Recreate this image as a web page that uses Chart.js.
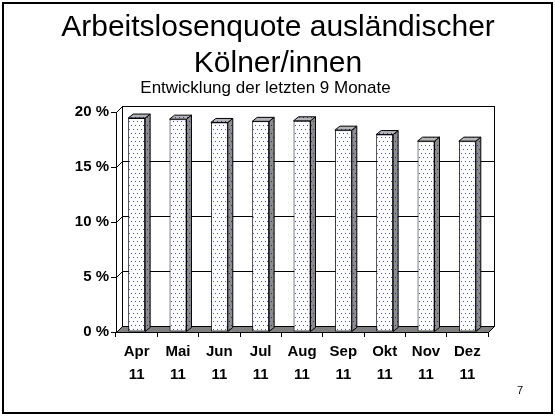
<!DOCTYPE html>
<html lang="de">
<head>
<meta charset="UTF-8">
<title>Arbeitslosenquote ausländischer Kölner/innen</title>
<script src="https://cdn.jsdelivr.net/npm/chart.js"></script>
<style>
  body { margin: 0; background: #fff; }
  canvas { display: block; }
</style>
</head>
<body>
<canvas id="myChart" width="555" height="417"></canvas>
<script>
// Daten
const monate = ['Apr', 'Mai', 'Jun', 'Jul', 'Aug', 'Sep', 'Okt', 'Nov', 'Dez'];
const jahre = ['11', '11', '11', '11', '11', '11', '11', '11', '11'];
const quote = [19.45, 19.35, 19.05, 19.15, 19.2, 18.35, 17.95, 17.35, 17.35];
const titel = ['Arbeitslosenquote ausländischer', 'Kölner/innen'];
const untertitel = 'Entwicklung der letzten 9 Monate';
const seite = '7';

const FONT = "'Liberation Sans', Arial, sans-serif";
const DX = 6, DY = -6;   // Tiefe der Wände
const BX = 5, BY = -4;   // Tiefe der Säulen

const canvas = document.getElementById('myChart');
const ctx = canvas.getContext('2d');

// gepunktetes Muster wie in PowerPoint
function punkte(bg, dot) {
    const tile = document.createElement('canvas');
    tile.width = 4; tile.height = 8;
    const g = tile.getContext('2d');
    g.fillStyle = bg;
    g.fillRect(0, 0, 4, 8);
    g.fillStyle = dot;
    g.fillRect(1, 1, 1, 1);
    g.fillRect(3, 5, 1, 1);
    return ctx.createPattern(tile, 'repeat');
}
const vorne = punkte('#ffffff', 'rgb(70,70,225)');
const seiteMuster = punkte('#8c8c8c', 'rgb(40,40,160)');
const oben = punkte('#b4b4b4', 'rgb(50,50,180)');

const raum = {
    id: 'raum',
    beforeDraw(chart) {
        const c = chart.ctx, a = chart.chartArea, y = chart.scales.y;
        const L = Math.round(a.left) + 0.5, R = Math.round(a.right) + 0.5;
        const B = Math.round(a.bottom) + 0.5, T = Math.round(a.top) + 0.5;
        c.save();
        c.fillStyle = '#fff';
        c.fillRect(0, 0, chart.width, chart.height);

        // Folienrahmen
        c.strokeStyle = '#000';
        c.lineWidth = 2;
        c.strokeRect(3, 3, 549, 410);
        c.lineWidth = 1;

        // Rückwand
        c.strokeRect(L + DX, T + DY, R - L, B - T);
        // linke Wand
        c.beginPath();
        c.moveTo(L, B); c.lineTo(L, T); c.lineTo(L + DX, T + DY); c.lineTo(L + DX, B + DY);
        c.closePath();
        c.stroke();
        // Boden
        c.beginPath();
        c.moveTo(L, B); c.lineTo(R, B); c.lineTo(R + DX, B + DY); c.lineTo(L + DX, B + DY);
        c.closePath();
        c.fillStyle = '#808080';
        c.fill();
        c.stroke();

        // Gitternetz
        y.ticks.forEach(t => {
            if (t.value <= y.min || t.value >= y.max) return;
            const py = Math.round(y.getPixelForValue(t.value)) + 0.5;
            c.beginPath();
            c.moveTo(L, py);
            c.lineTo(L + DX, py + DY);
            c.lineTo(R + DX, py + DY);
            c.stroke();
        });

        // Texte
        c.fillStyle = '#000';
        c.textAlign = 'center';
        c.textBaseline = 'alphabetic';
        c.font = '30px ' + FONT;
        c.fillText(titel[0], 278, 36);
        c.fillText(titel[1], 278, 72);
        c.font = '17px ' + FONT;
        c.fillText(untertitel, 265.5, 93);
        c.font = '11px ' + FONT;
        c.fillText(seite, 520, 394);
        c.restore();
    },
    afterDatasetsDraw(chart) {
        const c = chart.ctx;
        c.save();
        c.strokeStyle = '#000';
        c.lineWidth = 1;
        chart.getDatasetMeta(0).data.forEach(bar => {
            const p = bar.getProps(['x', 'y', 'base', 'width'], true);
            const l = p.x - p.width / 2, r = p.x + p.width / 2;
            // Seite
            c.beginPath();
            c.moveTo(r, p.y); c.lineTo(r + BX, p.y + BY);
            c.lineTo(r + BX, p.base + BY); c.lineTo(r, p.base);
            c.closePath();
            c.fillStyle = seiteMuster;
            c.fill();
            c.stroke();
            // Deckel
            c.beginPath();
            c.moveTo(l, p.y); c.lineTo(l + BX, p.y + BY);
            c.lineTo(r + BX, p.y + BY); c.lineTo(r, p.y);
            c.closePath();
            c.fillStyle = oben;
            c.fill();
            c.stroke();
        });
        c.restore();
    }
};

Chart.defaults.color = '#000';
Chart.defaults.font.family = FONT;

new Chart(ctx, {
    type: 'bar',
    data: {
        labels: monate.map((m, i) => [m, jahre[i]]),
        datasets: [{
            data: quote,
            backgroundColor: vorne,
            borderColor: '#000',
            borderWidth: 1,
            borderSkipped: false,
            barPercentage: 0.41,
            categoryPercentage: 1
        }]
    },
    options: {
        responsive: false,
        animation: false,
        layout: { padding: { left: 0, right: 67, top: 112, bottom: 0 } },
        plugins: {
            legend: { display: false },
            tooltip: { enabled: false }
        },
        scales: {
            x: {
                grid: { drawOnChartArea: false, tickLength: 5, color: '#000' },
                border: { color: '#000' },
                ticks: {
                    font: { size: 15, weight: 'bold', lineHeight: 1.5 },
                    padding: 4,
                    maxRotation: 0,
                    autoSkip: false
                },
                afterFit(s) { s.height = 85; }
            },
            y: {
                min: 0,
                max: 20,
                grid: { drawOnChartArea: false, tickLength: 5, color: '#000' },
                border: { color: '#000' },
                ticks: {
                    stepSize: 5,
                    padding: 2,
                    font: { size: 15, weight: 'bold' },
                    callback: v => v + ' %'
                },
                afterFit(s) { s.width = 116; }
            }
        }
    },
    plugins: [raum]
});
</script>
</body>
</html>
